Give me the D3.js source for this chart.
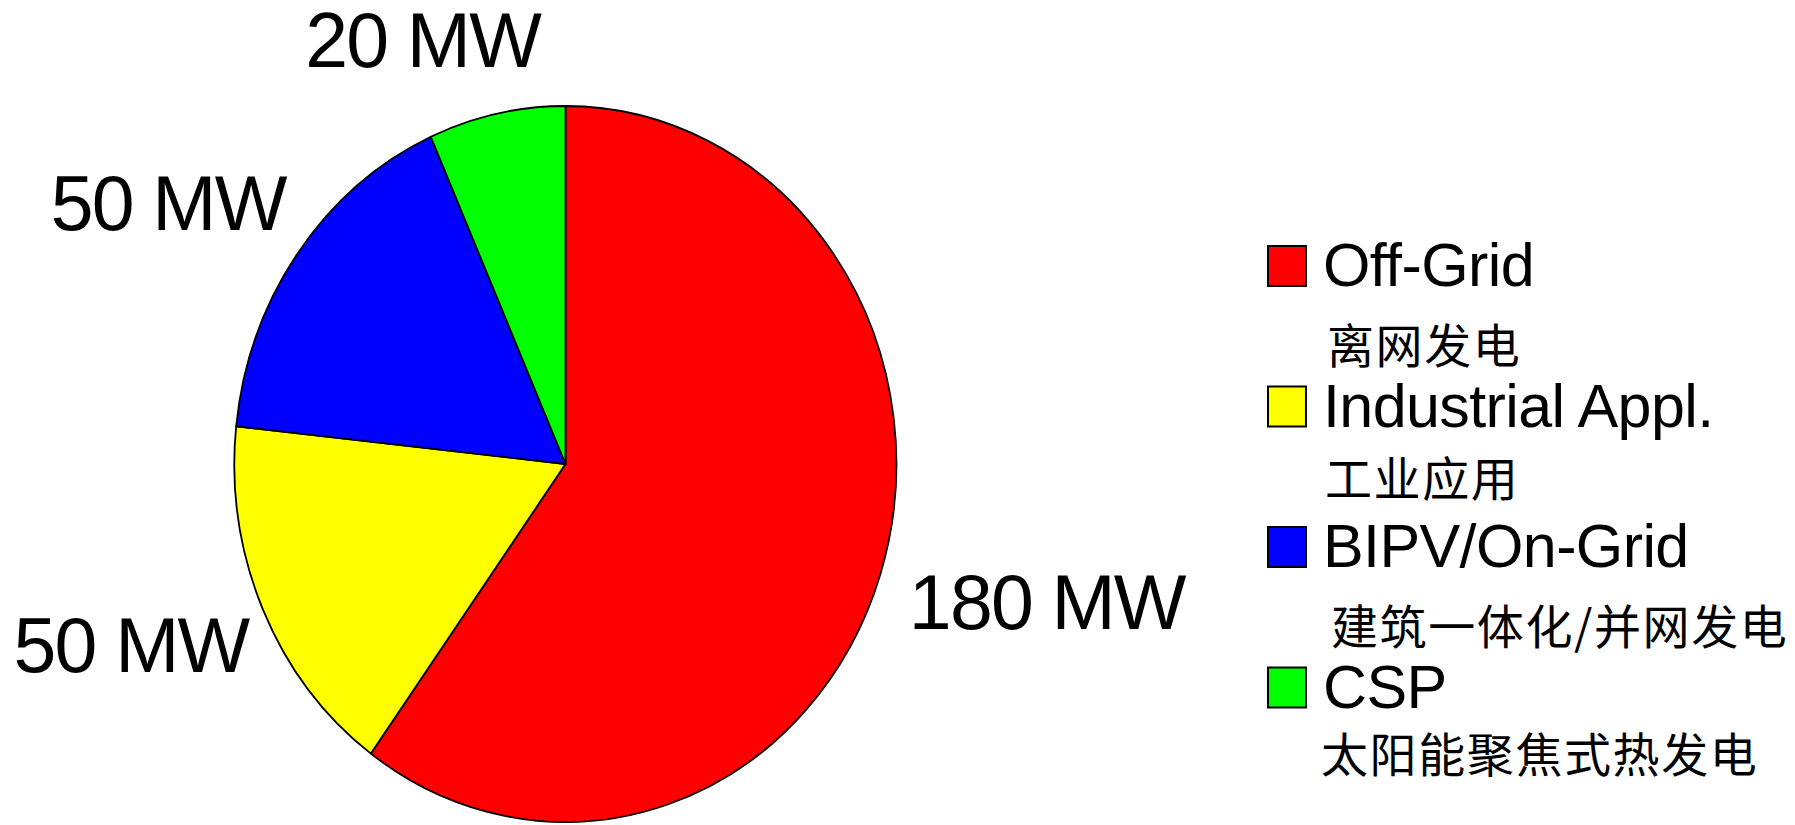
<!DOCTYPE html>
<html>
<head>
<meta charset="utf-8">
<script src="https://cdn.jsdelivr.net/npm/d3@7"></script>
<style>
  html, body { margin: 0; padding: 0; background: #ffffff; }
  svg { display: block; }
</style>
</head>
<body>
<svg id="chart" width="1795" height="825"></svg>
<script>
// ---- data ----
const categories   = ["Off-Grid", "Industrial Appl.", "BIPV/On-Grid", "CSP"];
const categoriesZh = ["离网发电", "工业应用", "建筑一体化/并网发电", "太阳能聚焦式热发电"];
const values       = [180, 50, 50, 20];
const valueLabels  = ["180 MW", "50 MW", "50 MW", "20 MW"];
const colors       = ["#ff0000", "#ffff00", "#0000ff", "#00ff00"];

// ---- layout ----
const W = 1795, H = 825;
const cx = 565.5, cy = 464, rx = 331, ry = 358;
const labelRadius = [1.504, 1.406, 1.405, 1.262];
const labelAngleShift = [-3.2, 3.0, -4.7, -8.0]; // degrees
const labelFont = 77;

const svg = d3.select("#chart");
svg.append("rect").attr("width", W).attr("height", H).attr("fill", "#fff");

const pie = d3.pie().sort(null).value(d => d).startAngle(0).endAngle(2 * Math.PI);
const arcs = pie(values);
const arc = d3.arc().innerRadius(0).outerRadius(1);

const g = svg.append("g").attr("transform", `translate(${cx},${cy}) scale(${rx},${ry})`);
g.selectAll("path")
  .data(arcs)
  .join("path")
  .attr("d", arc)
  .attr("fill", (d, i) => colors[i])
  .attr("stroke", "#000")
  .attr("stroke-width", 1.8)
  .attr("stroke-linejoin", "round")
  .attr("vector-effect", "non-scaling-stroke");

// value labels
svg.append("g").selectAll("text")
  .data(arcs)
  .join("text")
  .attr("x", (d, i) => {
    const a = (d.startAngle + d.endAngle) / 2 + labelAngleShift[i] * Math.PI / 180;
    return cx + Math.sin(a) * labelRadius[i] * rx;
  })
  .attr("y", (d, i) => {
    const a = (d.startAngle + d.endAngle) / 2 + labelAngleShift[i] * Math.PI / 180;
    return cy - Math.cos(a) * labelRadius[i] * ry + 0.36 * labelFont;
  })
  .attr("text-anchor", "middle")
  .attr("font-family", "'Liberation Sans', Arial, sans-serif")
  .attr("font-size", labelFont)
  .attr("letter-spacing", -1.8)
  .attr("fill", "#000")
  .text((d, i) => valueLabels[i]);

// legend
const legendX = 1268, legendTop = 246, legendStep = 140.5;
const sw = 38, sh = 40;
const zhBaselines = [363, 496, 644, 772];
const zhX = [1327, 1325, 1331, 1321];
const leg = svg.append("g");
const items = leg.selectAll("g").data(categories).join("g")
  .attr("transform", (d, i) => `translate(${legendX},${legendTop + i * legendStep})`);

items.append("rect")
  .attr("x", 0).attr("y", 0).attr("width", sw).attr("height", sh)
  .attr("fill", (d, i) => colors[i])
  .attr("stroke", "#000").attr("stroke-width", 2);

items.append("text")
  .attr("x", 55).attr("y", 40)
  .attr("font-family", "'Liberation Sans', Arial, sans-serif")
  .attr("font-size", 61)
  .attr("letter-spacing", -0.6)
  .attr("fill", "#000")
  .text(d => d);

items.append("text")
  .attr("x", (d, i) => zhX[i] - legendX)
  .attr("y", (d, i) => zhBaselines[i] - (legendTop + i * legendStep))
  .attr("font-family", "'Noto Sans CJK SC', sans-serif")
  .attr("font-size", 47)
  .attr("letter-spacing", 1.6)
  .attr("fill", "#000")
  .text((d, i) => categoriesZh[i]);
</script>
</body>
</html>
